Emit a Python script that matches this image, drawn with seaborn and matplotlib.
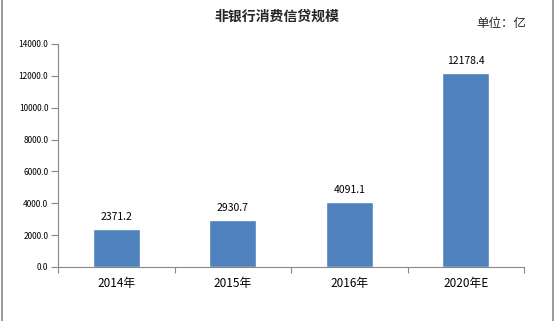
import matplotlib
matplotlib.use("Agg")
import matplotlib.pyplot as plt
import seaborn as sns
from matplotlib.lines import Line2D
from matplotlib.ticker import FormatStrFormatter, FixedLocator

categories = ["2014年", "2015年", "2016年", "2020年E"]
values = [2371.2, 2930.7, 4091.1, 12178.4]
title = "非银行消费信贷规模"
unit = "单位：亿"

sns.set_theme(style="white")
plt.rcParams["font.family"] = ["Noto Sans CJK SC", "DejaVu Sans"]

fig = plt.figure(figsize=(5.55, 3.21), dpi=100)
ax = fig.add_axes([58 / 555, 1 - 267 / 321, (524 - 58) / 555, (267 - 44) / 321])

sns.barplot(x=categories, y=values, color="#4F81BD", width=0.4, ax=ax, saturation=1)

for i, v in enumerate(values):
    ax.text(i, v + 450, f"{v:.1f}", ha="center", va="bottom", fontsize=7.5, color="black")

ax.set_ylim(0, 14000)
ax.set_xlim(-0.5, 3.5)
ax.set_yticks(range(0, 14001, 2000))
ax.yaxis.set_major_formatter(FormatStrFormatter("%.1f"))
ax.tick_params(axis="y", labelsize=6, colors="black", length=5, width=0.8, pad=2, direction="out", left=True, color="#888888")
ax.tick_params(axis="x", which="major", length=0, labelsize=8.5, pad=7, colors="black")
ax.xaxis.set_minor_locator(FixedLocator([-0.5, 0.5, 1.5, 2.5, 3.5]))
ax.tick_params(axis="x", which="minor", length=4, width=0.8, color="#888888", bottom=True, direction="out")
ax.set_xlabel("")
ax.set_ylabel("")
for s in ["top", "right"]:
    ax.spines[s].set_visible(False)
for s in ["left", "bottom"]:
    ax.spines[s].set_color("#888888")
    ax.spines[s].set_linewidth(0.8)

fig.text(276.5 / 555, 1 - 17 / 321, title, ha="center", va="center", fontsize=10, fontweight="bold")
fig.text(501 / 555, 1 - 23 / 321, unit, ha="center", va="center", fontsize=9)

fig.add_artist(Line2D([1.5 / 555, 1.5 / 555], [0, 1], color="#888888", lw=1.2, transform=fig.transFigure))
fig.add_artist(Line2D([552.5 / 555, 552.5 / 555], [0, 1], color="#888888", lw=1.2, transform=fig.transFigure))

fig.savefig("out.png", dpi=100)
